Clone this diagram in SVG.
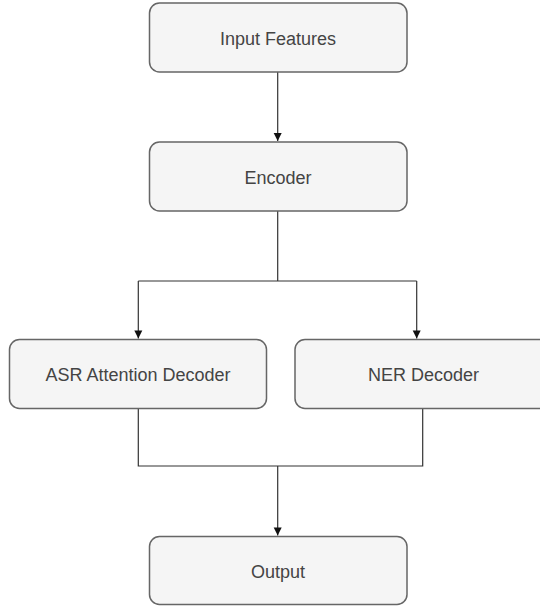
<svg xmlns="http://www.w3.org/2000/svg" width="540" height="608" viewBox="0 0 540 608">
  <defs>
    <style>
      .box { fill: #f5f5f5; stroke: #666666; stroke-width: 1.5; }
      .label { font-family: "Liberation Sans", Arial, sans-serif; font-size: 18px; fill: #444444; text-anchor: middle; }
      .wire { fill: none; stroke: #333333; stroke-width: 1.2; }
    </style>
    <marker id="arrow" markerWidth="10" markerHeight="10" refX="9" refY="5" orient="auto" markerUnits="userSpaceOnUse">
      <path d="M1,1 L9,5 L1,9 Z" fill="#111111"/>
    </marker>
  </defs>
  <rect width="540" height="608" fill="#ffffff"/>

  <g id="connectors">
    <path class="wire" d="M277.7,72 L277.7,141" marker-end="url(#arrow)"/>
    <path class="wire" d="M277.7,211 L277.7,281 M138.3,281 L416.7,281"/>
    <path class="wire" d="M138.3,281 L138.3,338.5" marker-end="url(#arrow)"/>
    <path class="wire" d="M416.7,281 L416.7,338.5" marker-end="url(#arrow)"/>
    <path class="wire" d="M138.3,408.5 L138.3,466 L422.7,466 L422.7,408.5"/>
    <path class="wire" d="M277.7,466 L277.7,535.5" marker-end="url(#arrow)"/>
  </g>

  <g id="input-features">
    <rect class="box" x="149.5" y="3" width="257.5" height="69" rx="10"/>
    <text class="label" x="278" y="44.5">Input Features</text>
  </g>

  <g id="encoder">
    <rect class="box" x="149.5" y="142" width="257.5" height="69" rx="10"/>
    <text class="label" x="278" y="183.5">Encoder</text>
  </g>

  <g id="asr-attention-decoder">
    <rect class="box" x="9.5" y="339.5" width="257" height="69" rx="10"/>
    <text class="label" x="138" y="381">ASR Attention Decoder</text>
  </g>

  <g id="ner-decoder">
    <rect class="box" x="295" y="339.5" width="257" height="69" rx="10"/>
    <text class="label" x="423.5" y="381">NER Decoder</text>
  </g>

  <g id="output">
    <rect class="box" x="149.5" y="536.5" width="257.5" height="68" rx="10"/>
    <text class="label" x="278" y="577.5">Output</text>
  </g>
</svg>
